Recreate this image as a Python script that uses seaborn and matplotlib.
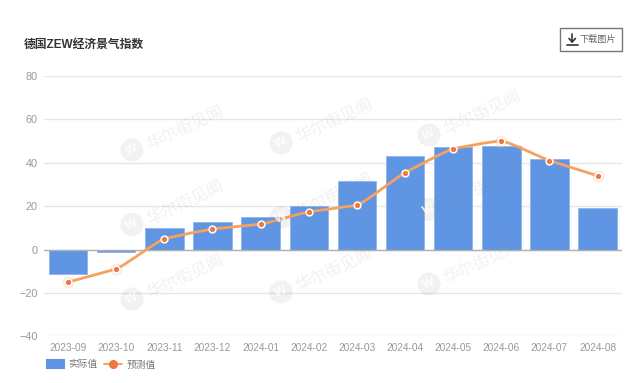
import numpy as np
import pandas as pd
import matplotlib
matplotlib.use('Agg')
import matplotlib.pyplot as plt
import seaborn as sns
from matplotlib.lines import Line2D
from matplotlib.patches import Patch, PathPatch, Rectangle, Circle
from matplotlib.path import Path

months = ['2023-09', '2023-10', '2023-11', '2023-12', '2024-01', '2024-02',
          '2024-03', '2024-04', '2024-05', '2024-06', '2024-07', '2024-08']
actual = [-11.2, -1.0, 9.8, 12.8, 15.2, 19.9, 31.7, 43.0, 47.1, 47.5, 41.8, 19.3]
forecast = [-15.0, -9.0, 5.0, 9.5, 11.7, 17.4, 20.4, 35.5, 46.5, 50.0, 41.0, 34.0]
y_ticks = [-40, -20, 0, 20, 40, 60, 80]
title = '德国ZEW经济景气指数'
watermark = '华尔街见闻'

W, H = 640, 383
BAR = '#5f95e3'
LINE = '#f5a25f'
DOT = '#f0783c'

sns.set_theme(style='white')
plt.rcParams['font.family'] = ['Liberation Sans', 'Noto Sans CJK SC', 'DejaVu Sans']

df = pd.DataFrame({'month': months, 'actual': actual, 'forecast': forecast})

fig = plt.figure(figsize=(W / 100, H / 100), dpi=100)
ax = fig.add_axes([44 / W, 1 - 336.3 / H, 577.7 / W, 260.3 / H])

sns.barplot(data=df, x='month', y='actual', color=BAR, saturation=1, width=0.8,
            edgecolor='#8db4ec', linewidth=0.6, ax=ax, zorder=2)

# slightly smoothed line through the forecast values
xs = np.arange(len(forecast))
ys = np.array(forecast)
slopes = np.gradient(ys)
verts = [(xs[0], ys[0])]
codes = [Path.MOVETO]
for i in range(len(xs) - 1):
    step = (ys[i + 1] - ys[i]) * 0.2
    verts += [(xs[i] + 0.2, ys[i] + np.clip(slopes[i] * 0.2, min(step, 0), max(step, 0))),
              (xs[i + 1] - 0.2, ys[i + 1] - np.clip(slopes[i + 1] * 0.2, min(step, 0), max(step, 0))),
              (xs[i + 1], ys[i + 1])]
    codes += [Path.CURVE4] * 3
ax.add_patch(PathPatch(Path(verts, codes), fill=False, edgecolor=LINE, lw=2.0,
                       capstyle='round', zorder=4))

# dots outside the bars have an orange glow
sns.scatterplot(data=df.iloc[[0, 1, 9, 11]], x='month', y='forecast', s=75, color='#fbd3b4',
                alpha=0.45, linewidth=0, ax=ax, zorder=3, legend=False)
sns.scatterplot(data=df, x='month', y='forecast', s=24, color=DOT, edgecolor='white',
                linewidth=1.1, ax=ax, zorder=5, legend=False)

ax.set_xlim(-0.5, 11.5)
ax.set_ylim(-40, 80)
ax.set_yticks(y_ticks)
ax.set_yticklabels([str(v).replace('-', '\u2212') for v in y_ticks])
ax.set_xlabel('')
ax.set_ylabel('')
ax.grid(axis='y', color='#e6e6e6', lw=1.0, zorder=0)
ax.set_axisbelow(True)
ax.axhline(0, color='#b0b0b0', lw=1.0, zorder=3)
ax.tick_params(axis='x', length=0, labelsize=7.3, labelcolor='#999999', pad=5)
ax.tick_params(axis='y', length=0, labelsize=7.8, labelcolor='#999999', pad=4.5)
for s in ax.spines.values():
    s.set_visible(False)

fig.text(24 / W, 1 - 44.5 / H, title, fontsize=8.5, fontweight='bold', color='#333333',
         ha='left', va='center')

# download button
fig.add_artist(Rectangle((559.5 / W, 1 - 50.5 / H), 62 / W, 23 / H, transform=fig.transFigure,
                         fill=False, edgecolor='#777777', lw=1.0))
fig.add_artist(Line2D([566.5 / W, 578 / W], [1 - 44.5 / H, 1 - 44.5 / H], color='#333333', lw=1.2))
fig.add_artist(Line2D([572.2 / W, 572.2 / W], [1 - 34 / H, 1 - 41.5 / H], color='#333333', lw=1.2))
fig.add_artist(Line2D([569 / W, 572.2 / W, 575.4 / W], [1 - 38.5 / H, 1 - 42 / H, 1 - 38.5 / H],
                      color='#333333', lw=1.2))
fig.text(580 / W, 1 - 39.5 / H, '下载图片', fontsize=6.6, color='#666666', ha='left', va='center')

# watermark grid
for cx, cy0 in [(132, 150), (281, 143), (429, 135)]:
    for k in range(3):
        cy = cy0 + k * 74.5
        fig.add_artist(Circle((cx, H - cy), 11.5, transform=None, facecolor='#8a8a8a',
                              alpha=0.11, edgecolor='none', zorder=10))
        fig.text(cx / W, 1 - cy / H, 'W', fontsize=9, fontweight='bold', color='white', alpha=0.85,
                 rotation=25, ha='center', va='center', zorder=11)
        fig.text((cx + 53) / W, 1 - (cy - 22) / H, watermark, fontsize=12, color='#8a8a8a',
                 alpha=0.12, rotation=25.5, rotation_mode='anchor', ha='center', va='center', zorder=11)

handles = [Patch(facecolor=BAR, edgecolor=BAR, lw=1.5, joinstyle='round'),
           Line2D([], [], color=LINE, lw=1.4, marker='o', ms=5.5, mfc=DOT, mec=DOT)]
fig.legend(handles, ['实际值', '预测值'], loc='center left', bbox_to_anchor=(46.5 / W, 1 - 364.5 / H),
           frameon=False, ncol=2, fontsize=7, labelcolor='#777777', handlelength=1.85,
           handleheight=0.8, handletextpad=0.4, columnspacing=0.7, borderpad=0, borderaxespad=0)

fig.savefig('out.png', dpi=100, facecolor='white')
